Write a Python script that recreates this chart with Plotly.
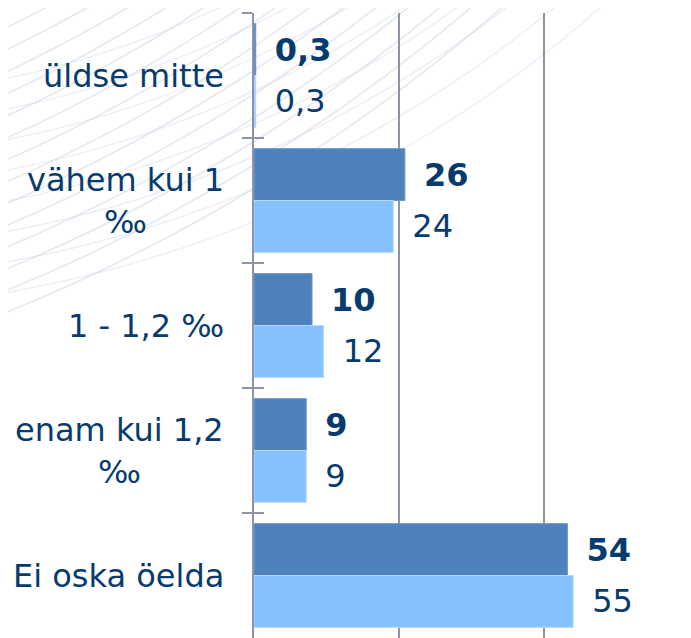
import plotly.graph_objects as go

categories = ["üldse mitte", "vähem kui 1 ‰", "1 - 1,2 ‰", "enam kui 1,2 ‰", "Ei oska öelda"]
label_text = ["üldse mitte", "vähem kui 1<br>‰", "1 - 1,2 ‰", "enam kui 1,2<br>‰", "Ei oska öelda"]
series_a = [0.3, 26, 10, 9, 54]
series_b = [0.3, 24, 12, 9, 55]

# page has an 8px body margin; figure sized to fill the 691x638 window
W, H = 683, 630
L, R, T, B = 246, 0, 5, 0
PW, PH = W - L - R, H - T - B
OFF = 8  # body margin offset on screen

NAVY = "#073B6E"
DARK = "#4F81BD"
LIGHT = "#86C1FF"
GRID = "#8E93A6"
FONT = "DejaVu Sans"
FS = 32

fig = go.Figure()
fig.add_trace(go.Bar(
    y=categories, x=series_a, orientation="h", name="A",
    marker=dict(color=DARK, line=dict(color="#6A96CC", width=1)),
    texttemplate="\u2002<b>%{x}</b>", textposition="outside",
    textfont=dict(family=FONT, size=FS, color=NAVY), cliponaxis=False,
))
fig.add_trace(go.Bar(
    y=categories, x=series_b, orientation="h", name="B",
    marker=dict(color=LIGHT, line=dict(color="#B5DAFF", width=1)),
    texttemplate="\u2002%{x}", textposition="outside",
    textfont=dict(family=FONT, size=FS, color=NAVY), cliponaxis=False,
))
# invisible helper trace to draw inward tick marks on an overlaid axis
fig.add_trace(go.Scatter(
    y=categories, x=[0] * len(categories), yaxis="y2", mode="markers",
    marker=dict(opacity=0), hoverinfo="skip", showlegend=False,
))

# category labels
for cat, txt in zip(categories, label_text):
    fig.add_annotation(
        x=0, xref="paper", y=cat, yref="y", text=txt, showarrow=False,
        xanchor="right", align="center", xshift=-28,
        font=dict(family=FONT, size=FS, color=NAVY),
    )

# faint decorative background arcs (top-left swoosh), given in screen pixels
def px2paper(px, py):
    return (px - OFF - L) / PW, 1 - (py - OFF - T) / PH

shapes = []
def add_circle(cx, cy, r, color, width):
    x0, y0 = px2paper(cx - r, cy - r)
    x1, y1 = px2paper(cx + r, cy + r)
    shapes.append(dict(type="circle", xref="paper", yref="paper",
                       x0=x0, y0=y1, x1=x1, y1=y0, layer="below",
                       line=dict(color=color, width=width)))

for r in range(1470, 1770, 20):
    add_circle(-650, -1310, r, "rgba(205,213,226,0.55)", 1.6)
for r in range(1000, 1240, 30):
    add_circle(-200, -900, r, "rgba(205,213,226,0.40)", 1.4)

fig.update_layout(
    width=W, height=H,
    margin=dict(l=L, r=R, t=T, b=B),
    paper_bgcolor="white", plot_bgcolor="rgba(0,0,0,0)",
    barmode="group", bargap=0.17, bargroupgap=0,
    showlegend=False, separators=", ",
    shapes=shapes,
    xaxis=dict(range=[0, 75.3], dtick=25, showgrid=True, gridcolor=GRID, gridwidth=2,
               zeroline=False, showline=False, showticklabels=False, ticks=""),
    yaxis=dict(type="category", categoryorder="array", categoryarray=categories,
               range=[4.5, -0.5], showline=True, linecolor=GRID, linewidth=2,
               ticks="outside", ticklen=10, tickwidth=2, tickcolor=GRID,
               tickson="boundaries", showticklabels=False, showgrid=False),
    yaxis2=dict(type="category", categoryorder="array", categoryarray=categories,
                range=[4.5, -0.5], overlaying="y", side="left", showline=False,
                ticks="inside", ticklen=10, tickwidth=2, tickcolor=GRID,
                tickson="boundaries", showticklabels=False, showgrid=False),
)

fig.write_html("out.html")
